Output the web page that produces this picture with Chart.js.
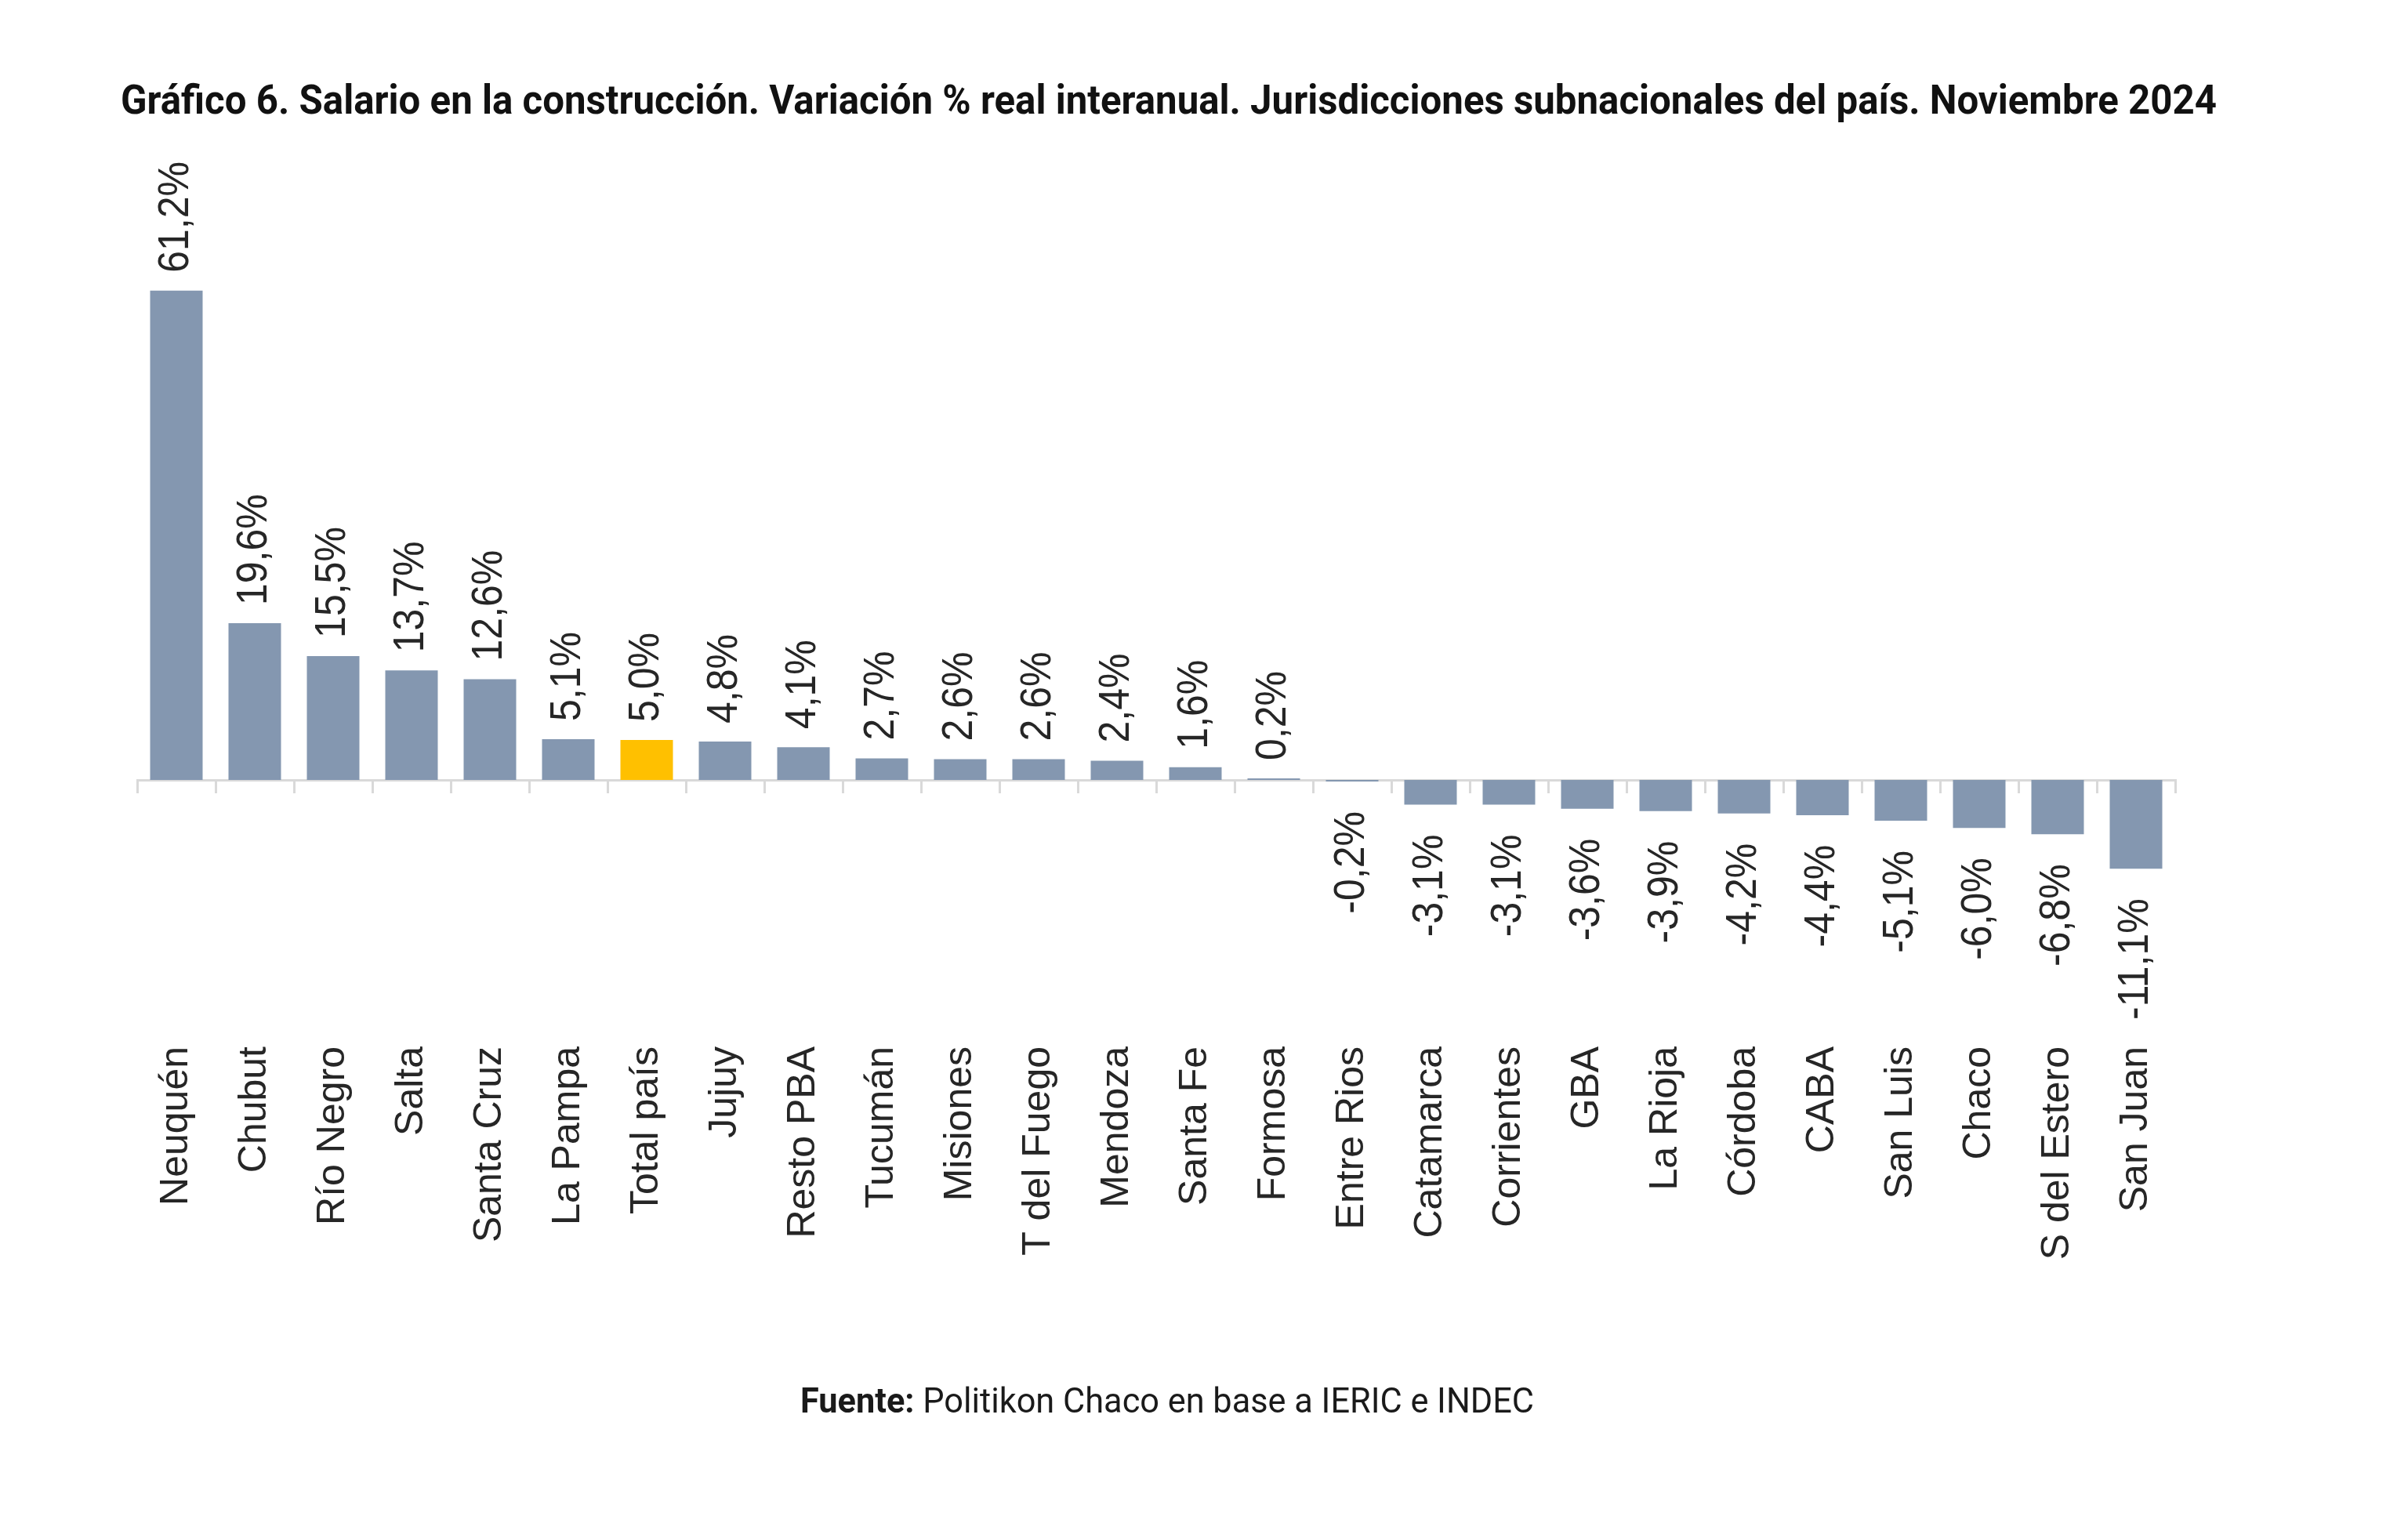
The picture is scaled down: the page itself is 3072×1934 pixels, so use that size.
<!DOCTYPE html>
<html>
<head>
<meta charset="utf-8">
<style>
  html, body { margin: 0; padding: 0; background: #ffffff; }
  #wrap { width: 3072px; height: 1934px; }
</style>
<script src="https://cdn.jsdelivr.net/npm/chart.js@4.4.1/dist/chart.umd.min.js"></script>
</head>
<body>
<div id="wrap"><canvas id="c" width="3072" height="1934"></canvas></div>
<script>
const titleText = 'Gráfico 6. Salario en la construcción. Variación % real interanual. Jurisdicciones subnacionales del país. Noviembre 2024';
const sourceBold = 'Fuente:';
const sourceText = ' Politikon Chaco en base a IERIC e INDEC';

const categories = ['Neuquén', 'Chubut', 'Río Negro', 'Salta', 'Santa Cruz', 'La Pampa', 'Total país', 'Jujuy', 'Resto PBA', 'Tucumán', 'Misiones', 'T del Fuego', 'Mendoza', 'Santa Fe', 'Formosa', 'Entre Rios', 'Catamarca', 'Corrientes', 'GBA', 'La Rioja', 'Córdoba', 'CABA', 'San Luis', 'Chaco', 'S del Estero', 'San Juan'];
const values = [61.2, 19.6, 15.5, 13.7, 12.6, 5.1, 5.0, 4.8, 4.1, 2.7, 2.6, 2.6, 2.4, 1.6, 0.2, -0.2, -3.1, -3.1, -3.6, -3.9, -4.2, -4.4, -5.1, -6.0, -6.8, -11.1];
const highlightCategory = 'Total país';

const barColor = '#8497B0';
const highlightColor = '#FFC000';
const textColor = '#262626';

const barColors = categories.map(c => c === highlightCategory ? highlightColor : barColor);
const fmt = v => v.toFixed(1).replace('.', ',') + '%';

const valueLabels = {
  id: 'valueLabels',
  afterDatasetsDraw(chart) {
    const ctx = chart.ctx;
    const meta = chart.getDatasetMeta(0);
    ctx.save();
    ctx.fillStyle = textColor;
    ctx.font = '50px "Liberation Sans", Arial, sans-serif';
    ctx.textBaseline = 'middle';
    meta.data.forEach((bar, i) => {
      const v = values[i];
      const props = bar.getProps(['x', 'y', 'base'], true);
      ctx.save();
      if (v >= 0) {
        ctx.translate(props.x, Math.min(props.y, props.base) - 23);
        ctx.rotate(-Math.PI / 2);
        ctx.scale(1, 1.1);
        ctx.textAlign = 'left';
      } else {
        ctx.translate(props.x, Math.max(props.y, props.base) + 38);
        ctx.rotate(-Math.PI / 2);
        ctx.scale(1, 1.1);
        ctx.textAlign = 'right';
      }
      ctx.fillText(fmt(v), 0, 0);
      ctx.restore();
    });
    ctx.restore();
  }
};

const textBlocks = {
  id: 'textBlocks',
  afterDraw(chart) {
    const ctx = chart.ctx;
    ctx.save();
    ctx.fillStyle = '#111111';
    ctx.textBaseline = 'alphabetic';
    ctx.textAlign = 'left';
    // Title
    ctx.font = 'bold 52px Roboto, "Liberation Sans", sans-serif';
    const tw = ctx.measureText(titleText).width;
    const targetTW = 2674;
    ctx.save();
    ctx.translate(154, 145);
    ctx.scale(targetTW / tw, 1);
    ctx.fillText(titleText, 0, 0);
    ctx.restore();
    // Source
    ctx.fillStyle = '#1a1a1a';
    const boldFont = 'bold 44px Roboto, "Liberation Sans", sans-serif';
    const normFont = '44px Roboto, "Liberation Sans", sans-serif';
    ctx.font = boldFont;
    const bw = ctx.measureText(sourceBold).width;
    ctx.font = normFont;
    const nw = ctx.measureText(sourceText).width;
    const targetSW = 936;
    const sx = targetSW / (bw + nw);
    ctx.save();
    ctx.translate(1021, 1802);
    ctx.scale(sx, 1);
    ctx.font = boldFont;
    ctx.fillText(sourceBold, 0, 0);
    ctx.font = normFont;
    ctx.fillText(sourceText, bw, 0);
    ctx.restore();
    ctx.restore();
  }
};

new Chart(document.getElementById('c'), {
  type: 'bar',
  data: {
    labels: categories,
    datasets: [{
      data: values,
      backgroundColor: barColors,
      borderWidth: 0,
      barPercentage: 0.67,
      categoryPercentage: 1.0
    }]
  },
  options: {
    responsive: false,
    maintainAspectRatio: false,
    devicePixelRatio: 1,
    animation: false,
    events: [],
    layout: { padding: { left: 175, right: 297, top: 281, bottom: 735 } },
    plugins: {
      legend: { display: false },
      title: { display: false },
      tooltip: { enabled: false }
    },
    scales: {
      y: {
        display: false,
        min: -20,
        max: 70
      },
      x: {
        position: { y: 0 },
        offset: true,
        afterFit(scale) {
          scale.paddingLeft = 0;
          scale.paddingRight = 0;
        },
        grid: {
          offset: true,
          drawOnChartArea: false,
          drawTicks: true,
          tickLength: 15,
          color: '#d9d9d9',
          lineWidth: 3
        },
        border: { display: true, color: '#d9d9d9', width: 3 },
        ticks: {
          autoSkip: false,
          minRotation: 90,
          maxRotation: 90,
          padding: 325,
          color: textColor,
          font: { family: '"Liberation Sans", Arial, sans-serif', size: 50 }
        }
      }
    }
  },
  plugins: [valueLabels, textBlocks]
});
</script>
</body>
</html>
